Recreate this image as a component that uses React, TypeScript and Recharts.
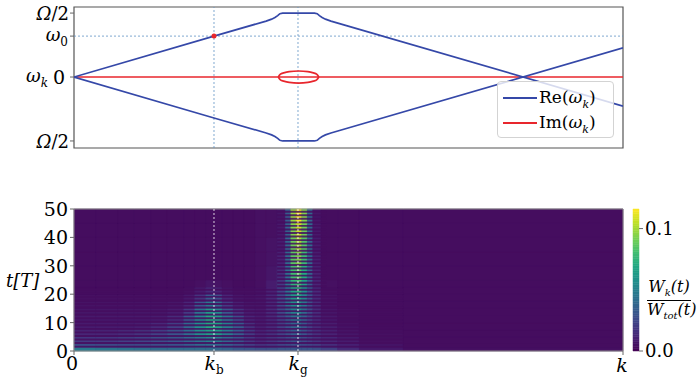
import React from "react";
import {
  LineChart,
  ComposedChart,
  Line,
  XAxis,
  YAxis,
  ReferenceLine,
  ReferenceDot,
  ReferenceArea,
} from "recharts";

/* ---- top panel: dispersion ω_k (units of Ω/2), k in units of full width ---- */
const KB = 0.255;
const KG = 0.408;
const W0 = 0.64;

const reUpper = [
  { k: 0, w: 0 }, { k: 0.255, w: 0.64 }, { k: 0.35, w: 0.875 }, { k: 0.36, w: 0.905 },
  { k: 0.366, w: 0.93 }, { k: 0.371, w: 0.96 }, { k: 0.375, w: 0.99 }, { k: 0.38, w: 1.0 },
  { k: 0.438, w: 1.0 }, { k: 0.443, w: 0.99 }, { k: 0.447, w: 0.96 }, { k: 0.452, w: 0.93 },
  { k: 0.458, w: 0.905 }, { k: 0.468, w: 0.875 }, { k: 1, w: -0.455 },
];
const reLower = [
  { k: 0, w: 0 }, { k: 0.255, w: -0.64 }, { k: 0.35, w: -0.875 }, { k: 0.36, w: -0.905 },
  { k: 0.366, w: -0.93 }, { k: 0.371, w: -0.96 }, { k: 0.375, w: -0.99 }, { k: 0.38, w: -1.0 },
  { k: 0.438, w: -1.0 }, { k: 0.443, w: -0.99 }, { k: 0.447, w: -0.96 }, { k: 0.452, w: -0.93 },
  { k: 0.458, w: -0.905 }, { k: 0.468, w: -0.875 }, { k: 1, w: 0.455 },
];
const imZero = [{ k: 0, w: 0 }, { k: 1, w: 0 }];
const imUpper = [
  { k: 0.372, w: 0 }, { k: 0.376, w: 0.045 }, { k: 0.382, w: 0.065 }, { k: 0.392, w: 0.085 },
  { k: 0.409, w: 0.094 }, { k: 0.426, w: 0.085 }, { k: 0.436, w: 0.065 }, { k: 0.442, w: 0.045 },
  { k: 0.446, w: 0 },
];
const imLower = [
  { k: 0.372, w: 0 }, { k: 0.376, w: -0.045 }, { k: 0.382, w: -0.065 }, { k: 0.392, w: -0.085 },
  { k: 0.409, w: -0.094 }, { k: 0.426, w: -0.085 }, { k: 0.436, w: -0.065 }, { k: 0.442, w: -0.045 },
  { k: 0.446, w: 0 },
];
const TOP_TICKS = [-1, 0, W0, 1];
const LEGEND = [
  { name: "Re", color: "#3548a8" },
  { name: "Im", color: "#e8262d" },
];

/* ---- bottom panel: W_k(t)/W_tot(t), values in 1e-3 ---- */
const kEdges = [
  0, 0.04, 0.08, 0.11, 0.14, 0.17, 0.2, 0.22, 0.24, 0.255, 0.27, 0.29, 0.31, 0.33,
  0.35, 0.37, 0.385, 0.395, 0.405, 0.415, 0.425, 0.435, 0.45, 0.48, 0.52, 0.6, 1,
];
const tEdges = [0, 1.2, 2.5, 5, 7.5, 10, 12.5, 15, 17.5, 20, 22.5, 25, 30, 35, 40, 45, 50];
const heat = [
  [48, 46, 44, 42, 40, 40, 40, 40, 40, 38, 36, 32, 30, 28, 28, 30, 30, 30, 30, 30, 30, 28, 22, 14, 8, 5],
  [30, 28, 26, 26, 28, 30, 34, 38, 40, 38, 34, 28, 22, 18, 20, 24, 26, 28, 28, 26, 24, 22, 16, 11, 7, 4],
  [20, 20, 22, 24, 28, 32, 38, 44, 50, 48, 38, 30, 20, 14, 18, 22, 26, 30, 30, 26, 22, 18, 13, 9, 5, 4],
  [12, 12, 14, 17, 22, 30, 42, 56, 64, 62, 48, 34, 20, 12, 16, 22, 28, 34, 36, 30, 22, 16, 11, 7, 5, 4],
  [9, 9, 9, 10, 14, 22, 40, 58, 70, 66, 50, 34, 17, 10, 14, 22, 30, 38, 40, 32, 22, 15, 10, 6, 4, 4],
  [8, 8, 8, 8, 9, 14, 32, 54, 70, 64, 44, 27, 12, 9, 14, 24, 34, 44, 46, 36, 24, 15, 8, 5, 4, 4],
  [7, 7, 7, 7, 7, 9, 20, 44, 62, 54, 32, 17, 9, 8, 14, 26, 38, 50, 52, 40, 26, 15, 7, 5, 4, 4],
  [6, 6, 6, 6, 6, 7, 12, 32, 46, 40, 20, 10, 7, 7, 13, 26, 42, 56, 60, 46, 28, 15, 6, 4, 4, 4],
  [5, 5, 5, 5, 5, 5, 8, 17, 32, 27, 12, 7, 6, 7, 13, 26, 44, 62, 66, 52, 30, 14, 6, 4, 4, 4],
  [4, 4, 4, 4, 4, 4, 5, 9, 14, 12, 7, 5, 5, 6, 11, 24, 44, 68, 74, 58, 32, 14, 5, 4, 4, 4],
  [4, 4, 4, 4, 4, 4, 4, 5, 7, 6, 5, 4, 4, 5, 9, 20, 44, 74, 80, 64, 34, 12, 5, 4, 4, 4],
  [4, 4, 4, 4, 4, 4, 4, 4, 4, 4, 4, 4, 4, 5, 7, 15, 42, 80, 86, 70, 36, 11, 4, 4, 4, 4],
  [4, 4, 4, 4, 4, 4, 4, 4, 4, 4, 4, 4, 4, 5, 6, 11, 40, 86, 94, 78, 38, 10, 4, 4, 4, 4],
  [4, 4, 4, 4, 4, 4, 4, 4, 4, 4, 4, 4, 4, 5, 6, 9, 38, 90, 100, 84, 38, 9, 4, 4, 4, 4],
  [4, 4, 4, 4, 4, 4, 4, 4, 4, 4, 4, 4, 4, 5, 5, 8, 36, 94, 107, 90, 38, 8, 4, 4, 4, 4],
  [4, 4, 4, 4, 4, 4, 4, 4, 4, 4, 4, 4, 4, 5, 5, 7, 34, 98, 114, 94, 38, 7, 4, 4, 4, 4],
];
// dark stripes (t centres) of the oscillation
const stripesWide = [1.55, 2.8, 4.05, 5.3, 6.55, 7.8, 9.05, 10.3, 11.55, 12.8, 14.05, 15.3, 16.55, 17.8, 19.05, 20.3, 21.55];
const stripesBand = [22.8, 24.05, 25.3, 26.55, 27.8, 29.05, 30.3, 31.55, 32.8, 34.05, 35.3, 36.55, 37.8, 39.05, 40.3, 41.55, 42.8, 44.05, 45.3, 46.55, 47.8, 49.05];
const T_TICKS = [0, 10, 20, 30, 40, 50];
const K_TICKS = [0, KB, KG, 1];
const CB_MAX = 0.116;
const CB_TICKS = [0, 0.1];

/* ---- styling ---- */
const FONT = "DejaVu Serif";
const VIRIDIS = ["#440154", "#482475", "#414487", "#355f8d", "#2a788e", "#21918c", "#22a884", "#44bf70", "#7ad151", "#bddf26", "#fde725"];

function viridis(v: number) {
  const t = Math.max(0, Math.min(1, v / CB_MAX)) * 10;
  const i = Math.min(9, Math.floor(t));
  const f = t - i;
  const a = VIRIDIS[i], b = VIRIDIS[i + 1];
  const ch = (s: string, o: number) => parseInt(s.slice(o, o + 2), 16);
  const c = [1, 3, 5].map((o) => Math.round(ch(a, o) + (ch(b, o) - ch(a, o)) * f));
  return `rgb(${c[0]},${c[1]},${c[2]})`;
}
const BG = viridis(0.004);

// colorbar slices (colormap only, not data)
const CB_STEPS = 60;
const cbSlices = Array.from({ length: CB_STEPS }, (_, i) => ({
  y1: (CB_MAX * i) / CB_STEPS,
  y2: (CB_MAX * (i + 1)) / CB_STEPS,
  color: viridis((CB_MAX * (i + 0.5)) / CB_STEPS),
}));

const txt = { fontFamily: FONT, fontSize: 19, fill: "#000" };

function TopTick(props: any) {
  const { x, y, payload } = props;
  const v = payload.value;
  if (v === 0)
    return (
      <g>
        <text x={x - 3} y={y + 7} textAnchor="end" {...txt}>0</text>
        <text x={26} y={y + 5} {...txt} fontSize={18} fontStyle="italic">
          ω<tspan fontSize={12} dy={5}>k</tspan>
        </text>
      </g>
    );
  if (v === W0)
    return (
      <text x={x} y={y + 5} textAnchor="end" {...txt} fontSize={18}>
        <tspan fontStyle="italic">ω</tspan>
        <tspan fontSize={12} dy={5}>0</tspan>
      </text>
    );
  return (
    <text x={x + 1} y={y + 7} textAnchor="end" {...txt} fontSize={18}>
      <tspan fontStyle="italic">Ω</tspan>/2
    </text>
  );
}

function TTick(props: any) {
  const { x, y, payload } = props;
  return (
    <text x={x} y={y + 7} textAnchor="end" {...txt}>
      {payload.value}
    </text>
  );
}

function KTick(props: any) {
  const { x, y, payload } = props;
  const v = payload.value;
  const ty = y + 13;
  if (v === 0) return <text x={x - 2} y={ty} textAnchor="middle" {...txt}>0</text>;
  if (v === 1) return <text x={x - 1} y={ty + 2} textAnchor="middle" {...txt} fontStyle="italic">k</text>;
  return (
    <text x={x} y={ty} textAnchor="middle" {...txt}>
      <tspan fontStyle="italic">k</tspan>
      <tspan fontSize={12} dy={4}>{v === KB ? "b" : "g"}</tspan>
    </text>
  );
}

export default function App() {
  const cells: React.ReactNode[] = [];
  heat.forEach((row, r) =>
    row.forEach((val, c) => {
      const col = viridis(val / 1000);
      cells.push(
        <ReferenceArea
          key={`c${r}-${c}`}
          x1={kEdges[c]} x2={kEdges[c + 1]} y1={tEdges[r]} y2={tEdges[r + 1]}
          fill={col} fillOpacity={1} stroke={col} strokeWidth={0.6}
        />
      );
    })
  );
  const stripes = [
    ...stripesWide.map((t) => ({ t, k1: 0, k2: 0.6 })),
    ...stripesBand.map((t) => ({ t, k1: 0.37, k2: 0.46 })),
  ];

  return (
    <div style={{ position: "absolute", left: 0, top: 0, width: 700, height: 386, background: "#fff" }}>
      {/* -------- top: dispersion -------- */}
      <div style={{ position: "absolute", left: 0, top: 0 }}>
        <LineChart width={700} height={160} margin={{ top: 7, right: 77, bottom: 12, left: 0 }}>
          <XAxis type="number" dataKey="k" domain={[0, 1]} hide allowDataOverflow />
          <YAxis
            type="number" domain={[-1.11, 1.095]} ticks={TOP_TICKS} interval={0}
            width={74} tickSize={4} axisLine={false} allowDataOverflow
            tick={(p: any) => <TopTick {...p} />}
          />
          <ReferenceLine x={KB} stroke="#5f93c4" strokeWidth={0.8} strokeDasharray="2 2" />
          <ReferenceLine x={KG} stroke="#5f93c4" strokeWidth={0.8} strokeDasharray="2 2" />
          <ReferenceLine y={W0} stroke="#5f93c4" strokeWidth={0.8} strokeDasharray="2 2" />
          <Line data={imZero} dataKey="w" stroke="#e8262d" strokeWidth={1.7} dot={false} isAnimationActive={false} />
          <Line data={imUpper} dataKey="w" type="monotone" stroke="#e8262d" strokeWidth={1.7} dot={false} isAnimationActive={false} />
          <Line data={imLower} dataKey="w" type="monotone" stroke="#e8262d" strokeWidth={1.7} dot={false} isAnimationActive={false} />
          <Line data={reUpper} dataKey="w" stroke="#3548a8" strokeWidth={1.7} dot={false} isAnimationActive={false} />
          <Line data={reLower} dataKey="w" stroke="#3548a8" strokeWidth={1.7} dot={false} isAnimationActive={false} />
          <ReferenceDot x={KB} y={W0} r={2.5} fill="#e8262d" stroke="none" />
          <ReferenceArea x1={0} x2={1} y1={-1.11} y2={1.095} fill="none" stroke="#555" strokeWidth={1.2} />
        </LineChart>
      </div>

      {/* legend */}
      <div
        style={{
          position: "absolute", left: 497, top: 81, width: 117, height: 57, boxSizing: "border-box",
          border: "1px solid #d3d3d3", borderRadius: 4, background: "rgba(255,255,255,0.8)",
        }}
      >
        {LEGEND.map((it, i) => (
          <div key={it.name} style={{ position: "absolute", left: 5, top: 4 + i * 25, height: 24, display: "flex", alignItems: "center" }}>
            <div style={{ width: 34, borderTop: `2px solid ${it.color}` }} />
            <span style={{ marginLeft: 2, fontFamily: FONT, fontSize: 17, lineHeight: "24px", whiteSpace: "nowrap" }}>
              {it.name}(<i>ω</i>
              <span style={{ fontSize: 11, position: "relative", top: 5, fontStyle: "italic" }}>k</span>)
            </span>
          </div>
        ))}
      </div>

      {/* -------- bottom: heatmap -------- */}
      <div style={{ position: "absolute", left: 0, top: 190 }}>
        <ComposedChart width={700} height={196} margin={{ top: 19, right: 77, bottom: 0, left: 0 }}>
          <XAxis
            type="number" dataKey="k" domain={[0, 1]} ticks={K_TICKS} interval={0}
            height={35} tickSize={4} axisLine={false} allowDataOverflow
            tick={(p: any) => <KTick {...p} />}
          />
          <YAxis
            type="number" domain={[0, 50]} ticks={T_TICKS} interval={0}
            width={74} tickSize={4} axisLine={false} allowDataOverflow
            tick={(p: any) => <TTick {...p} />}
          />
          <ReferenceArea x1={0} x2={1} y1={0} y2={50} fill={BG} fillOpacity={1} stroke="none" />
          {cells}
          {stripes.map((s, i) => (
            <ReferenceArea
              key={`s${i}`} x1={s.k1} x2={s.k2} y1={s.t - 0.34} y2={s.t + 0.34}
              fill={BG} fillOpacity={0.85} stroke="none"
            />
          ))}
          <ReferenceLine x={KB} stroke="#ffffff" strokeWidth={0.8} strokeDasharray="2 2" />
          <ReferenceLine x={KG} stroke="#ffffff" strokeWidth={0.8} strokeDasharray="2 2" />
          <ReferenceArea x1={0} x2={1} y1={0} y2={50} fill="none" stroke="#888" strokeWidth={1} />
        </ComposedChart>
      </div>

      {/* colorbar */}
      <div style={{ position: "absolute", left: 600, top: 190 }}>
        <ComposedChart width={100} height={196} margin={{ top: 19, right: 0, bottom: 0, left: 33 }}>
          <XAxis
            type="number" dataKey="x" domain={[0, 1]} height={35}
            tick={false} tickLine={false} axisLine={false} allowDataOverflow
          />
          <YAxis
            orientation="right" type="number" domain={[0, CB_MAX]} ticks={CB_TICKS} interval={0}
            width={61} tickSize={4} axisLine={false} allowDataOverflow
            tickFormatter={(v: number) => v.toFixed(1)}
            tick={{ fontFamily: FONT, fontSize: 18, fill: "#000" }}
          />
          {cbSlices.map((s, i) => (
            <ReferenceArea
              key={`cb${i}`} x1={0} x2={1} y1={s.y1} y2={s.y2}
              fill={s.color} fillOpacity={1} stroke={s.color} strokeWidth={0.5}
            />
          ))}
        </ComposedChart>
      </div>

      {/* axis labels */}
      <div style={{ position: "absolute", left: 6, top: 271, fontFamily: FONT, fontSize: 18, fontStyle: "italic", lineHeight: "20px" }}>
        t[T]
      </div>
      <div
        style={{
          position: "absolute", left: 647, top: 278, width: 44, fontFamily: FONT, fontSize: 16,
          fontStyle: "italic", textAlign: "center", lineHeight: "18px",
        }}
      >
        <div style={{ borderBottom: "1px solid #000", paddingBottom: 2 }}>
          W<span style={{ fontSize: 10, position: "relative", top: 4 }}>k</span>(t)
        </div>
        <div>
          W<span style={{ fontSize: 10, position: "relative", top: 4 }}>tot</span>(t)
        </div>
      </div>
    </div>
  );
}
